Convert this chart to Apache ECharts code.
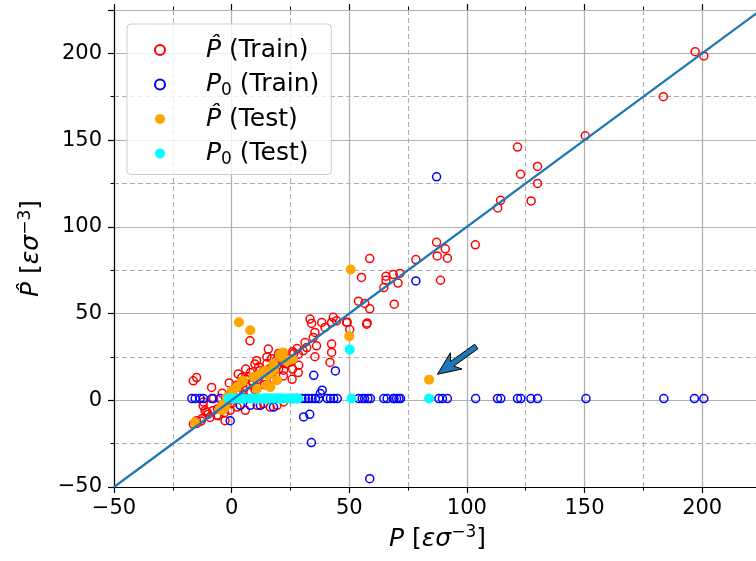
<!DOCTYPE html>
<html><head><meta charset="utf-8">
<script src="https://cdn.jsdelivr.net/npm/echarts@6/dist/echarts.min.js"></script>
<style>html,body{margin:0;padding:0;background:#fff}#c{width:756px;height:561px}</style>
</head><body><div id="c"></div>
<script>
// ---- tick labels ----
const xTickValues = [-50, 0, 50, 100, 150, 200];
const yTickValues = [-50, 0, 50, 100, 150, 200];

// ---- series: [P, value] ----
const trainPhat = [
  [197,201],[200.7,198.5],[183.5,175],[150.3,152.5],[121.5,146],[130,134.8],[122.8,130.3],[130,125],
  [114.3,115.3],[113.1,110.9],[127.3,114.9],[87.1,91.1],[90.8,87.3],[87.4,83.2],[91.7,81.9],[103.6,89.6],
  [88.8,69.2],[78.3,81.1],[58.7,81.7],[55.2,70.8],[65.6,71.5],[65.6,69.2],[68.7,72.5],[71.5,73.1],
  [70.7,67.6],[64.7,65],[53.9,57.1],[56.6,55.8],[58.7,52.7],[69.1,55.4],[57.6,44.6],
  [33.3,46.8],[34,44.3],[38.3,44.9],[42.5,44.9],[43.2,47.8],[44.6,45.8],[48.9,44.9],[39.7,42],
  [35.4,39.1],[34.7,36.2],[31.2,33.3],[31.9,30.4],[30.4,28.5],[28.3,26.6],[36.1,31.4],[42.5,32.4],
  [42.5,27.6],[35.4,25.1],[41.8,21.8],[25.9,18],[28.3,16],[25.7,12.1],[28.5,20.2],[57.4,43.9],
  [50.2,40.8],[49.1,45],
  [-16.3,11.2],[-14.9,13.1],[-8.5,7.4],[-12.1,-3.2],[-11.3,-6],[-16.3,-13.7],[-14.9,-11.8],[-9.2,-9.9],
  [-5.7,-8.9],[-2.8,-11.8],[7.8,34.3],[15.6,29.5],[10.6,22.8],[9.9,20.9],[2.8,15.1],[4.3,13.1],
  [15,25],[11.5,19.2],[15,21.2],[19.3,20.2],[21.4,22.1],[22.1,17.3],[27.8,29.8],[26.4,26.9],
  [7.2,13.4],[2.3,8.7],[-12,-1],[-7.7,1],[-10.5,-6.7],[-12.6,-10.6],[-14.8,-13.4],[-6.3,-8.7],
  [-0.6,-5.8],[2.3,-3.9],[5.8,-5.8],[10.8,-2.9],[13.6,-1.9],[16.4,-3.9],[19.3,-2.9],[22.1,-1],[25,1],
  [-3,-2],[-1,0],[1,2],[3,4],[5,6],[6,8],[8,9],[9,11],[11,12],[12,14],[13,16],[14,13],[16,18],
  [17,16],[18,19],[19,23],[20,18],[21,25],[23,21],[24,24],[25,22],[26,28],[20,27],[17,24],[12,17],
  [8,16],[6,12],[4,9],[0,4],[-2,1],[-4,-3],[-6,-5],[-8,-6],[-10,-8],[-13,-12],[-3,-7],[0,-2],
  [5,3],[10,6],[14,9],[18,12],[22,14],[6,18],[-1,10],[-4,4]
];
const trainP0 = [
  [-16.9,1],[-15.5,1],[-13.4,1],[-12,1],[-8.4,1],[-4.9,1],[-2.5,1],[27.8,1],[29.9,1],[31.3,1],
  [32.7,1],[34.2,1],[35.6,1],[37,1],[40.6,1],[42,1],[43.4,1],[44.9,1],[54,1],[55.5,1],[56.5,1],
  [57.9,1],[59,1],[64.7,1],[66.1,1],[68.7,1],[69,1],[70.1,1],[71.1,1],[71.8,1],[88.1,1],[89.6,1],
  [91.7,1],[103.7,1],[113,1],[114.4,1],[121.5,1],[122.9,1],[127.2,1],[130,1],[150.6,1],[183.7,1],
  [196.7,1],[200.7,1],
  [87.1,128.8],[78.3,68.8],[34.9,14.4],[44.1,16.9],[38.5,5.8],[37.7,3.9],[30.6,-9.6],[33.2,-8.1],
  [33.9,-24.4],[58.7,-45.2],[-0.6,-11.8],[17.8,-3.9],[12.2,-2.9],[7.9,-2.9],[3.7,-2.9]
];
const testPhat = [
  [3.1,45],[7.9,40.4],[50,36.9],[50.6,75.4],[83.9,11.9],[20.7,26.5],[21.9,27.6],[25.9,23.6],
  [17.7,20.9],[14.2,17],[10.6,13.1],[19.3,11.6],[16.4,7.6],[4.9,11.2],[2.1,7.4],[0,5.5],[-2.1,1.6],
  [-3.6,-2.2],[-5,-5.1],[-15.6,-12.8],[13.6,15.4],[15.7,14.4],[15,8.7],[10.8,6.7],[4.4,10.6],
  [9.3,13.4],[-2.7,-3.9],[-4.1,-5.8],[20.5,25],[23.5,22.5],[12,15],[18,17]
];
const testP0 = [
  [50.2,29.3],[50.9,1],[83.9,1],
  [-1.4,1],[0,1],[1,1],[2.1,1],[3.1,1],[4.4,1],[4.9,1],[7.9,1],[9.3,1],[10.6,1],[10.8,1],[12,1],
  [13.6,1],[14.2,1],[15,1],[15.7,1],[16.4,1],[17.7,1],[18,1],[19.3,1],[20.5,1],[20.7,1],[21.9,1],
  [23.5,1],[25.7,1],[25.9,1],[26.2,1],[28.3,1]
];
const identityX = [-50, 225];
const arrowTail = [104, 31];
const arrowTip = [87.5, 15];

const FONT = 'DejaVu Sans';
const chart = echarts.init(document.getElementById('c'), null, {renderer: 'canvas'});

function tickFmt(list) {
  return function (v) {
    if (!list.includes(v)) return '';
    return v < 0 ? '\u2212' + (-v) : String(v);
  };
}
const nameRich = {
  i: {fontStyle: 'italic', fontSize: 25, fontFamily: FONT, lineHeight: 30, color: '#000'},
  sup: {fontSize: 17, fontFamily: FONT, lineHeight: 14, verticalAlign: 'top', color: '#000'}
};
const GRIDC = '#b0b0b0';
function axisSet(dim, labelList, name, nameGap, labelMargin) {
  const common = {type: 'value', min: -50, max: 225};
  const mainPos = dim === 'x' ? 'bottom' : 'left';
  const arr = [
    Object.assign({}, common, {
      position: mainPos, interval: 50, z: 2,
      axisLine: {show: true, onZero: false, lineStyle: {color: '#000', width: 1.2}},
      axisTick: {show: true, inside: false, length: 6, lineStyle: {color: '#000', width: 1.2}},
      axisLabel: {show: true, margin: labelMargin, fontSize: 21, fontFamily: FONT, color: '#000', formatter: tickFmt(labelList)},
      splitLine: {show: true, lineStyle: {color: GRIDC, width: 1.2}},
      name: name, nameLocation: 'middle', nameGap: nameGap,
      nameTextStyle: {fontSize: 25, fontFamily: FONT, color: '#000', lineHeight: 30, rich: nameRich}
    }),
    Object.assign({}, common, {
      position: mainPos, interval: 25, z: 1,
      axisLine: {show: false, onZero: false},
      axisTick: {show: true, inside: false, length: 3.5, lineStyle: {color: '#000', width: 1}},
      axisLabel: {show: false},
      splitLine: {show: true, lineStyle: {color: GRIDC, width: 1.1, type: [5, 3]}}
    })
  ];
  if (dim === 'x') {
    arr.push(Object.assign({}, common, {
      position: 'top', interval: 50,
      axisLine: {show: true, onZero: false, lineStyle: {color: '#000', width: 1.2}},
      axisTick: {show: true, inside: false, length: 6, lineStyle: {color: '#000', width: 1.2}},
      axisLabel: {show: false}, splitLine: {show: false}
    }));
    arr.push(Object.assign({}, common, {
      position: 'top', interval: 25,
      axisLine: {show: false, onZero: false},
      axisTick: {show: true, inside: false, length: 3.5, lineStyle: {color: '#000', width: 1}},
      axisLabel: {show: false}, splitLine: {show: false}
    }));
  }
  return arr;
}

const openStyle = (c) => ({color: 'rgba(0,0,0,0)', borderColor: c, borderWidth: 1.5, opacity: 1});
const names = ['P\u0302 (Train)', 'P0 (Train)', 'P\u0302 (Test)', 'P0 (Test)'];
const legendText = {
  'P\u0302 (Train)': '{g| }{i|P\u0302} (Train)',
  'P0 (Train)': '{g| }{i|P}{sub|0} (Train)',
  'P\u0302 (Test)': '{g| }{i|P\u0302} (Test)',
  'P0 (Test)': '{g| }{i|P}{sub|0} (Test)'
};

chart.setOption({
  animation: false,
  backgroundColor: '#fff',
  grid: {left: 114, top: 10, width: 647, height: 477, containLabel: false, outerBoundsMode: 'none'},
  xAxis: axisSet('x', xTickValues, '{i|P} [{i|\u03b5\u03c3}{sup|\u22123}]', 37, 11),
  yAxis: axisSet('y', yTickValues, '{i|P\u0302} [{i|\u03b5\u03c3}{sup|\u22123}]', 39, 12),
  legend: {
    orient: 'vertical', left: 127, top: 24,
    padding: [11, 12, 6, 27], itemGap: 4.5, itemWidth: 10, itemHeight: 10,
    backgroundColor: 'rgba(255,255,255,0.8)', borderColor: '#cccccc', borderWidth: 1, borderRadius: 4,
    data: names,
    formatter: (n) => legendText[n],
    textStyle: {
      fontSize: 25, fontFamily: FONT, color: '#000', lineHeight: 30,
      rich: {
        g: {width: 36, fontSize: 25, lineHeight: 30},
        i: {fontStyle: 'italic', fontSize: 25, fontFamily: FONT, lineHeight: 30, color: '#000'},
        sub: {fontSize: 17, fontFamily: FONT, lineHeight: 14, verticalAlign: 'bottom', color: '#000'}
      }
    }
  },
  series: [
    {name: names[0], type: 'scatter', data: trainPhat, symbol: 'circle', symbolSize: 8, itemStyle: openStyle('#ff0000'), z: 2},
    {name: names[1], type: 'scatter', data: trainP0, symbol: 'circle', symbolSize: 8, itemStyle: openStyle('#0000ff'), z: 2},
    {name: names[2], type: 'scatter', data: testPhat, symbol: 'circle', symbolSize: 10, itemStyle: {color: '#ffa500', opacity: 1}, z: 2},
    {name: names[3], type: 'scatter', data: testP0, symbol: 'circle', symbolSize: 10, itemStyle: {color: '#00ffff', opacity: 1}, z: 2},
    {name: 'identity', type: 'line', data: identityX.map(v => [v, v]), showSymbol: false, symbol: 'none',
     lineStyle: {color: '#1f77b4', width: 2.3}, z: 3, silent: true},
    {name: 'arrow', type: 'custom', z: 4, silent: true,
     dimensions: ['x0', 'y0', 'x1', 'y1'], encode: {x: [0, 2], y: [1, 3]},
     data: [[arrowTail[0], arrowTail[1], arrowTip[0], arrowTip[1]]],
     renderItem: function (params, api) {
       const t = api.coord([api.value(0), api.value(1)]);
       const h = api.coord([api.value(2), api.value(3)]);
       const dx = h[0] - t[0], dy = h[1] - t[1];
       const L = Math.hypot(dx, dy);
       const ux = dx / L, uy = dy / L, px = -uy, py = ux;
       const headLen = 23, hw = 10, sw = 2.8, notch = 5;
       const P = (a, b) => [t[0] + ux * a + px * b, t[1] + uy * a + py * b];
       const pts = [P(0, sw), P(L - headLen + notch, sw), P(L - headLen, hw), P(L, 0),
                    P(L - headLen, -hw), P(L - headLen + notch, -sw), P(0, -sw)];
       return {type: 'polygon', shape: {points: pts}, style: {fill: '#1f77b4', stroke: '#000', lineWidth: 1}};
     }
    }
  ]
});
</script>
</body></html>
